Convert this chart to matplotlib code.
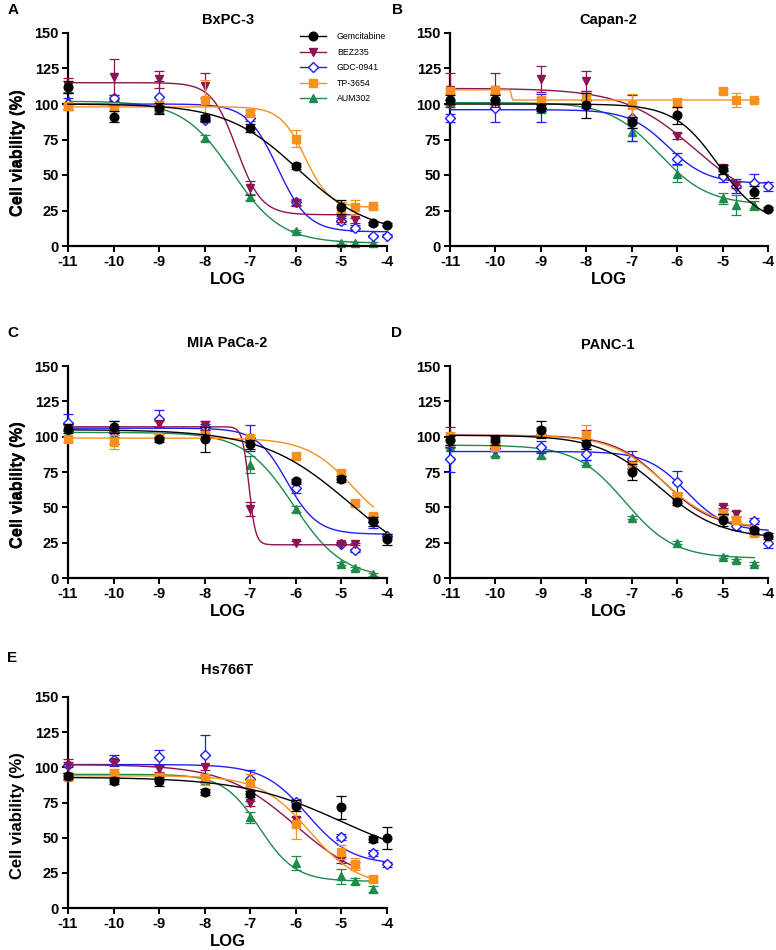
import numpy as np
import matplotlib
matplotlib.use("Agg")
import matplotlib.pyplot as plt
from matplotlib.lines import Line2D

plt.rcParams['font.family'] = ['Liberation Sans', 'DejaVu Sans']

nan = np.nan
W, H = 776, 950

log_conc = [-11, -10, -9, -8, -7, -6, -5, -4.7, -4.3, -4]
drugs = ["Gemcitabine", "BEZ235", "GDC-0941", "TP-3654", "AUM302"]
colors = ["#000000", "#8A1550", "#1F1FF5", "#F7901E", "#1F8A4C"]
markers = ["o", "v", "D", "s", "^"]
zorders = [6, 4, 3, 5, 2]

cell_lines = ["BxPC-3", "Capan-2", "MIA PaCa-2", "PANC-1", "Hs766T"]
panel_letters = ["A", "B", "C", "D", "E"]

# ---- Panel A: BxPC-3 ----
A_gem = [112, 91, 97, 90, 83, 56.5, 27.5, nan, 16, 15]
A_gem_err = [4, 4, 4, 2, 3, 2, 5, nan, 1, 1]
A_bez = [113, 119, 117.5, 113, 41, 30.5, 19, 18, nan, nan]
A_bez_err = [5, 13, 6, 9, 5, 2, 2, 2, nan, nan]
A_gdc = [100, 104, 105, 89, 90, 31, 17.5, 12.7, 7, 7.3]
A_gdc_err = [4, 2, 11, 2, 2, 2, 2, 2, 1, 1]
A_tp = [98.5, 98, 99, 103, 94, 75.5, 27, 27.5, 28, nan]
A_tp_err = [3, 3, 3, 14, 2, 6, 4, 5, 1, nan]
A_aum = [102.5, 101, 97, 76, 34.5, 10.6, 2.4, 2, 2, nan]
A_aum_err = [6, 2, 2, 2, 2, 1, 1, 1, 1, nan]

# ---- Panel B: Capan-2 ----
B_gem = [103, 103, 97, 99, 87, 92, 54, nan, 38, 26.4]
B_gem_err = [3, 3, 2, 9, 4, 6, 3, nan, 4, 1]
B_bez = [110, 110, 117.5, 116.5, 86, 77.5, 55, 43, nan, nan]
B_bez_err = [12, 12, 9, 7, 3, 2, 2, 2, nan, nan]
B_gdc = [90, 97, 97, 103, 90, 61.5, 49, 42, 44.5, 42]
B_gdc_err = [3, 10, 10, 6, 16, 4, 4, 5, 6, 3]
B_tp = [109.5, 110, 103, 105, 99, 101, 109.5, 103, 102.6, nan]
B_tp_err = [2, 2, 2, 2, 8, 3, 2, 5, 1, nan]
B_aum = [101, 101, 97, 100, 80, 51, 33.5, 29, 28.7, nan]
B_aum_err = [2, 2, 3, 3, 6, 6, 4, 7, 3, nan]

# ---- Panel C: MIA PaCa-2 ----
C_gem = [105.7, 106.8, 98, 98, 94.6, 68.4, 70, nan, 40, 27.4]
C_gem_err = [3, 4, 2, 9, 3, 2, 2, nan, 3, 4]
C_bez = [106, 105, 109, 108, 49, 25, 24.3, 24, nan, nan]
C_bez_err = [2, 2, 2, 3, 5, 1, 1, 1, nan, nan]
C_gdc = [110, 103, 112.7, 106.8, 99, 64, 24.3, 19.6, 39.6, 30]
C_gdc_err = [6, 8, 6, 2, 9, 4, 1, 1, 4, 1]
C_tp = [98, 96, 100, 101, 99, 86.6, 74, 53, 43.6, nan]
C_tp_err = [2, 5, 2, 2, 2, 2, 2, 2, 2, nan]
C_aum = [102, 102, 100, 100, 80, 49, 10, 7, 2.6, nan]
C_aum_err = [2, 2, 2, 2, 6, 2, 1, 1, 1, nan]

# ---- Panel D: PANC-1 ----
D_gem = [97.4, 97.4, 105, 94.6, 75, 54, 41, nan, 33.7, 29.5]
D_gem_err = [3, 3, 6, 3, 6, 2, 4, nan, 2, 2]
D_bez = [100, 98, 104, 100, 80, 56, 50, 45.5, 33, nan]
D_bez_err = [7, 2, 2, 5, 3, 3, 2, 2, 2, nan]
D_gdc = [84, 92, 92.7, 87.5, 84, 68, 45.5, 37, 40.3, 25]
D_gdc_err = [9, 2, 4, 4, 6, 8, 4, 3, 2, 4]
D_tp = [100, 93, 104, 101, 79, 57, 45.5, 41, 32, nan]
D_tp_err = [3, 2, 3, 7, 3, 4, 3, 3, 2, nan]
D_aum = [93, 88, 87, 81.6, 42.7, 25, 15, 12.5, 10, nan]
D_aum_err = [1, 2, 2, 2, 1, 1, 1, 1, 1, nan]

# ---- Panel E: Hs766T ----
E_gem = [93.8, 90, 90, 82.5, 81, 72.8, 71.6, nan, 49, 49.6]
E_gem_err = [2, 2, 3, 2, 2, 4, 8, nan, 2, 8]
E_bez = [101, 104, 99, 100, 74.4, 62.6, 34.3, 30.7, nan, nan]
E_bez_err = [5, 2, 2, 2, 2, 2, 2, 2, nan, nan]
E_gdc = [102, 105, 107, 108.7, 92, 75.6, 50.3, nan, 39, 31]
E_gdc_err = [2, 4, 5, 14, 6, 2, 2, nan, 2, 2]
E_tp = [93, 96, 93, 91.4, 89, 60, 39.5, 31.2, 20.6, nan]
E_tp_err = [2, 3, 2, 4, 6, 11, 5, 4, 2, nan]
E_aum = [94, 95, 94, 91, 64.5, 32, 22.4, 19, 13.7, nan]
E_aum_err = [2, 2, 2, 2, 4, 5, 5, 2, 2, nan]

# Fitted 4PL parameters (top, bottom, logIC50, hill)
A_fit = [(100, 8, -5.95, 0.55), (115, 22, -7.3, 1.6), (100, 10, -6.4, 1.3),
         (98, 27, -5.8, 1.6), (102, 2, -7.4, 0.8)]
B_fit = [(100, 15, -5.1, 0.9), (111, 25, -5.6, 0.55), (96, 44, -6.2, 1.0),
         (110, 102.8, -9.65, 40), (101, 29, -6.4, 0.8)]
C_fit = [(105, 0, -4.8, 0.45), (107, 23.5, -7.03, 6), (106, 31, -6.2, 1.3),
         (99, 30, -4.75, 0.85), (103, 0, -6.05, 0.8)]
D_fit = [(101, 28, -6.4, 0.65), (101, 35, -6.3, 0.8), (89.5, 33, -5.8, 1.0),
         (101, 35, -6.3, 0.75), (94, 14, -7.15, 0.8)]
E_fit = [(93, 30, -5.0, 0.4), (102, 15, -6.0, 0.55), (102, 31, -5.75, 0.9),
         (94, 15, -5.7, 0.8), (95, 19, -6.8, 1.1)]

panels = [
    ([A_gem, A_bez, A_gdc, A_tp, A_aum], [A_gem_err, A_bez_err, A_gdc_err, A_tp_err, A_aum_err], A_fit),
    ([B_gem, B_bez, B_gdc, B_tp, B_aum], [B_gem_err, B_bez_err, B_gdc_err, B_tp_err, B_aum_err], B_fit),
    ([C_gem, C_bez, C_gdc, C_tp, C_aum], [C_gem_err, C_bez_err, C_gdc_err, C_tp_err, C_aum_err], C_fit),
    ([D_gem, D_bez, D_gdc, D_tp, D_aum], [D_gem_err, D_bez_err, D_gdc_err, D_tp_err, D_aum_err], D_fit),
    ([E_gem, E_bez, E_gdc, E_tp, E_aum], [E_gem_err, E_bez_err, E_gdc_err, E_tp_err, E_aum_err], E_fit),
]

# layout in pixels: (left, right, top, bottom) of axes
boxes = [(68, 387, 33, 246), (450, 768, 33, 246), (68, 387, 366, 578),
         (450, 768, 366, 578), (68, 387, 697, 908)]
title_pos = [(228, 20), (608, 20), (227, 343), (608, 345), (227, 670)]
letter_pos = [(8, 10), (392, 10), (7, 333), (391, 333), (7, 658)]


def four_pl(x, top, bottom, logic50, hill):
    return bottom + (top - bottom) / (1 + 10 ** ((x - logic50) * hill))


fig = plt.figure(figsize=(W / 100, H / 100), dpi=100)
x_arr = np.array(log_conc, dtype=float)

for i, (series, errs, fits) in enumerate(panels):
    l, r, t, b = boxes[i]
    ax = fig.add_axes([l / W, 1 - b / H, (r - l) / W, (b - t) / H])
    for j in range(5):
        y = np.array(series[j], dtype=float)
        e = np.array(errs[j], dtype=float)
        m = ~np.isnan(y)
        xs = x_arr[m]
        xc = np.linspace(-11, xs.max(), 400)
        ax.plot(xc, four_pl(xc, *fits[j]), color=colors[j], lw=1.0,
                zorder=zorders[j], clip_on=False)
        ax.errorbar(xs, y[m], yerr=e[m], fmt='none', ecolor=colors[j],
                    elinewidth=0.9, capsize=3.5, capthick=0.9,
                    zorder=zorders[j] + 0.1, clip_on=False)
        if markers[j] == "D":
            ax.plot(xs, y[m], linestyle='none', marker='D', ms=5.0,
                    mfc='white', mec=colors[j], mew=1.0,
                    zorder=zorders[j] + 0.2, clip_on=False)
        else:
            ax.plot(xs, y[m], linestyle='none', marker=markers[j], ms=6.2,
                    color=colors[j], mec=colors[j],
                    zorder=zorders[j] + 0.2, clip_on=False)

    ax.set_xlim(-11, -4)
    ax.set_ylim(0, 150)
    ax.set_xticks(range(-11, -3))
    ax.set_xticklabels([str(v) for v in range(-11, -3)])
    ax.set_yticks([0, 25, 50, 75, 100, 125, 150])
    for s in ['top', 'right']:
        ax.spines[s].set_visible(False)
    for s in ['left', 'bottom']:
        ax.spines[s].set_linewidth(1.6)
    ax.tick_params(width=1.4, length=4.5, pad=2, labelsize=10.5)
    for lab in ax.get_xticklabels() + ax.get_yticklabels():
        lab.set_fontweight('bold')
    ax.set_xlabel('LOG', fontsize=12, fontweight='bold', va='center')
    ax.xaxis.set_label_coords(0.5, -34 / (b - t))
    ax.set_ylabel('Cell viability (%)', fontsize=12, fontweight='bold', va='center')
    ax.yaxis.set_label_coords(-(l - 18) / (r - l), 0.44)

    tx, ty = title_pos[i]
    fig.text(tx / W, 1 - ty / H, cell_lines[i], ha='center', va='center',
             fontsize=10.5, fontweight='bold')
    lx, ly = letter_pos[i]
    fig.text(lx / W, 1 - ly / H, panel_letters[i], ha='left', va='center',
             fontsize=11, fontweight='bold')

    if i == 0:
        handles = []
        for j in range(5):
            if markers[j] == "D":
                h = Line2D([], [], color=colors[j], lw=1.0, marker='D', ms=5,
                           mfc='white', mec=colors[j], mew=1.0)
            else:
                h = Line2D([], [], color=colors[j], lw=1.0, marker=markers[j],
                           ms=6.2, mec=colors[j])
            handles.append(h)
        ax.legend(handles, drugs, loc='upper left',
                  bbox_to_anchor=((300 - l) / (r - l), (b - 32) / (b - t)),
                  frameon=False, fontsize=6.3, handlelength=3.0,
                  handletextpad=1.2, labelspacing=0.75, borderpad=0,
                  borderaxespad=0)

fig.savefig('out.png', dpi=100)
